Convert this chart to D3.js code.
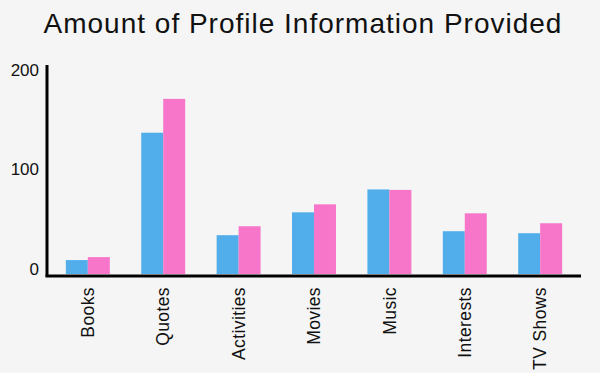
<!DOCTYPE html>
<html>
<head>
<meta charset="utf-8">
<script src="https://cdnjs.cloudflare.com/ajax/libs/d3/7.8.5/d3.min.js"></script>
<style>
  body { margin: 0; background: #f4f5f4; }
  text { font-family: "Liberation Sans", Arial, Helvetica, sans-serif; fill: #111; }
</style>
</head>
<body>
<script>
// data
var categories = ["Books", "Quotes", "Activities", "Movies", "Music", "Interests", "TV Shows"];
var blueValues = [14, 142, 39, 62, 85, 43, 41];
var pinkValues = [17, 176, 48, 70, 84.5, 61, 51];
var yTicks = [0, 100, 200];

var W = 600, H = 373;
var margin = { top: 65, right: 19, bottom: 98, left: 47 },
    width = W - margin.left - margin.right,
    height = H - margin.top - margin.bottom;

var svg = d3.select("body").append("svg")
    .attr("width", W)
    .attr("height", H);

svg.append("rect").attr("width", W).attr("height", H).attr("fill", "#f4f5f4");

// title
svg.append("text")
    .attr("x", 303)
    .attr("y", 33)
    .attr("text-anchor", "middle")
    .style("font-size", "28px")
    .style("letter-spacing", "1px")
    .text("Amount of Profile Information Provided");

var g = svg.append("g")
    .attr("transform", "translate(" + margin.left + "," + margin.top + ")");

// setup x
var xScale = d3.scaleBand()
    .domain(categories)
    .range([0, width])
    .paddingInner(0.417)
    .paddingOuter(0.25);

var xSub = d3.scaleBand()
    .domain(["blue", "pink"])
    .range([0, xScale.bandwidth()]);

// setup y: zero sits on the baseline, 200 just below the axis top
var yScale = d3.scaleLinear()
    .domain([0, 200])
    .range([height - 1, height - 200]);

var rows = categories.map(function (c, i) {
    return { cat: c, blue: blueValues[i], pink: pinkValues[i] };
});

var colors = { blue: "#52aeea", pink: "#f776c9" };

// bars
var groups = g.selectAll(".grp")
    .data(rows)
    .enter().append("g")
    .attr("class", "grp")
    .attr("transform", function (d) { return "translate(" + xScale(d.cat) + ",0)"; });

groups.selectAll("rect")
    .data(function (d) { return ["blue", "pink"].map(function (k) { return { key: k, v: d[k] }; }); })
    .enter().append("rect")
    .attr("x", function (d) { return xSub(d.key); })
    .attr("width", xSub.bandwidth())
    .attr("y", function (d) { return yScale(d.v); })
    .attr("height", function (d) { return yScale(0) - yScale(d.v); })
    .attr("fill", function (d) { return colors[d.key]; });

// y axis
var yAxis = g.append("g")
    .call(d3.axisLeft(yScale).tickValues(yTicks).tickSize(0).tickPadding(8));
yAxis.select(".domain").remove();
yAxis.selectAll("text")
    .attr("dy", "0")
    .style("font-size", "17px")
    .style("font-family", "'Liberation Sans', Arial, sans-serif");

g.append("line")
    .attr("x1", 0).attr("x2", 0)
    .attr("y1", 0).attr("y2", height + 1.5)
    .attr("stroke", "#000")
    .attr("stroke-width", 3);

// x axis
var xAxis = g.append("g")
    .attr("transform", "translate(0," + (height + 1) + ")")
    .call(d3.axisBottom(xScale).tickSize(0).tickPadding(0));
xAxis.select(".domain").remove();
xAxis.selectAll("text")
    .attr("transform", "rotate(-90)")
    .attr("x", -11)
    .attr("y", 0)
    .attr("dy", "0.35em")
    .style("text-anchor", "end")
    .style("font-size", "17.5px")
    .style("letter-spacing", "0.4px")
    .style("font-family", "'Liberation Sans', Arial, sans-serif");

g.append("line")
    .attr("x1", -1.5).attr("x2", width)
    .attr("y1", height + 1).attr("y2", height + 1)
    .attr("stroke", "#000")
    .attr("stroke-width", 3);
</script>
</body>
</html>
